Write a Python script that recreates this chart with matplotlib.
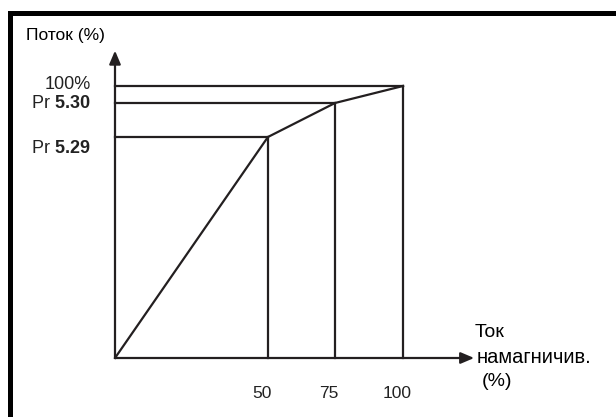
import matplotlib.pyplot as plt
from matplotlib.lines import Line2D

plt.rcParams['font.family'] = ['Liberation Sans', 'DejaVu Sans']
plt.rcParams['mathtext.fontset'] = 'custom'
plt.rcParams['mathtext.bf'] = 'Liberation Sans:bold'
plt.rcParams['mathtext.rm'] = 'Liberation Sans'

# schematic points of the flux curve (percent of rated)
current_points = [0, 53.1, 76.4, 100]      # magnetising current
flux_points = [0, 81.25, 93.75, 100]       # flux
current_labels = ['50', '75', '100']
flux_labels = [r'Pr $\mathbf{5.29}$', r'Pr $\mathbf{5.30}$', '100%']

ink = '#231f20'
W, H = 616, 417

fig = plt.figure(figsize=(W / 100, H / 100), dpi=100)
ax = fig.add_axes([115 / W, (H - 358) / H, 288 / W, 272 / H])
ax.set_xlim(0, 100)
ax.set_ylim(0, 100)
ax.axis('off')

# frame of the figure (top and left only, the rest is cut off)
fig.add_artist(Line2D([9.5 / W, 9.5 / W, 1.0], [0.0, 1 - 12.5 / H, 1 - 12.5 / H],
                      transform=fig.transFigure, color='black', lw=3.6,
                      solid_joinstyle='miter'))

# axes with arrows
arrow = dict(arrowstyle='-|>,head_length=0.8,head_width=0.34',
             color=ink, lw=1.6, shrinkA=0, shrinkB=0)
ax.annotate('', xy=(0, 113), xytext=(0, 0), arrowprops=arrow, annotation_clip=False)
ax.annotate('', xy=(124.7, 0), xytext=(0, 0), arrowprops=arrow, annotation_clip=False)

# curve
ax.plot(current_points, flux_points, color=ink, lw=1.6, clip_on=False,
        solid_joinstyle='miter')

# guide lines
for xv, yv in zip(current_points[1:], flux_points[1:]):
    ax.plot([0, xv], [yv, yv], color=ink, lw=1.6, clip_on=False)
    ax.plot([xv, xv], [0, yv], color=ink, lw=1.6, clip_on=False)

# tick labels
for xv, lab in zip(current_points[1:], current_labels):
    ax.text(xv - 2, -12.9, lab, ha='center', va='center', fontsize=12.5, color='#222222')

label_y = [77.2, 93.4, 100.7]
for yv, lab in zip(label_y, flux_labels):
    ax.text(-8.5, yv, lab, ha='right', va='center', fontsize=13, color='#222222')

# axis titles
ax.text(-31, 118.5, 'Поток (%)', ha='left', va='center', fontsize=12.5, color='black')
ax.text(124.7, 9.5, 'Ток', ha='left', va='center', fontsize=14, color='black')
ax.text(125.5, 0.3, 'намагничив.', ha='left', va='center', fontsize=14.5, color='black')
ax.text(127.2, -8.6, '(%)', ha='left', va='center', fontsize=14, color='black')

fig.savefig('out.png', dpi=100, facecolor='white')
